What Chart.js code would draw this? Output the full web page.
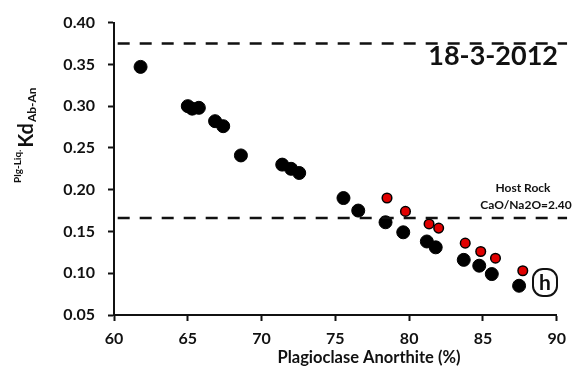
<!DOCTYPE html>
<html>
<head>
<meta charset="utf-8">
<title>Plagioclase-liquid Kd</title>
<script src="https://cdn.jsdelivr.net/npm/chart.js@4.4.1/dist/chart.umd.min.js"></script>
<style>
    html, body { margin: 0; padding: 0; background: #fff; }
    #kdChart { display: block; }
</style>
</head>
<body>
<canvas id="kdChart" width="574" height="378"></canvas>
<script>
// Plagioclase An content vs Plg-Liq Kd(Ab-An), sample 18-3-2012

// black circles
const anBlack = [61.8, 65.0, 65.3, 65.75, 66.85, 67.4, 68.6, 71.4, 72.0, 72.55, 75.55, 76.55, 78.4, 79.6, 81.2, 81.8, 83.7, 84.75, 85.6, 87.45];
const kdBlack = [0.347, 0.300, 0.297, 0.298, 0.282, 0.276, 0.241, 0.230, 0.225, 0.220, 0.190, 0.175, 0.161, 0.149, 0.138, 0.131, 0.116, 0.109, 0.099, 0.085];

// red circles
const anRed = [78.5, 79.75, 81.35, 82.0, 83.8, 84.85, 85.85, 87.7];
const kdRed = [0.190, 0.174, 0.159, 0.154, 0.136, 0.126, 0.118, 0.103];

// reference lines
const upperKd = 0.375;
const hostRockKd = 0.166;
const refLineAn = [60.25, 90.7];

const xTicks = [60, 65, 70, 75, 80, 85, 90];
const yTicks = [0.05, 0.10, 0.15, 0.20, 0.25, 0.30, 0.35, 0.40];

const FONT = 'Lato, "Open Sans", sans-serif';
const INK = '#111';

const toPoints = (xs, ys) => xs.map((x, i) => ({ x: x, y: ys[i] }));
const hLine = y => refLineAn.map(x => ({ x: x, y: y }));

// extra text: sample label, host rock note, panel letter, axis titles
const annotations = {
    id: 'annotations',
    afterDraw(chart) {
        const ctx = chart.ctx;
        ctx.save();
        ctx.fillStyle = INK;
        ctx.strokeStyle = INK;

        ctx.font = 'bold 27px ' + FONT;
        ctx.textAlign = 'right';
        ctx.textBaseline = 'alphabetic';
        ctx.fillText('18-3-2012', 558, 65);

        ctx.font = 'bold 12px ' + FONT;
        ctx.textAlign = 'center';
        ctx.textBaseline = 'middle';
        ctx.fillText('Host Rock', 523, 188);
        ctx.fillText('CaO/Na2O=2.40', 526, 205);

        // panel letter in rounded box
        ctx.lineWidth = 2;
        ctx.beginPath();
        ctx.roundRect(533, 269, 24, 27, 10);
        ctx.stroke();
        ctx.font = 'bold 21px ' + FONT;
        ctx.fillText('h', 545, 283);

        // x title
        ctx.font = 'bold 16.5px ' + FONT;
        ctx.fillText('Plagioclase Anorthite (%)', 369, 358);

        // y title with super/subscripts, rotated
        ctx.translate(33, 183);
        ctx.rotate(-Math.PI / 2);
        ctx.textAlign = 'left';
        ctx.textBaseline = 'alphabetic';
        let x = 0;
        ctx.font = 'bold 10px ' + FONT;
        ctx.fillText('Plg-Liq.', x, -12);
        x += ctx.measureText('Plg-Liq.').width + 2;
        ctx.font = 'bold 20px ' + FONT;
        ctx.fillText('Kd', x, 0);
        x += ctx.measureText('Kd').width + 1;
        ctx.font = 'bold 12px ' + FONT;
        ctx.fillText('Ab-An', x, 3);
        ctx.restore();
    }
};

new Chart(document.getElementById('kdChart'), {
    type: 'scatter',
    data: {
        datasets: [
            {
                label: 'upper',
                type: 'line',
                data: hLine(upperKd),
                borderColor: INK,
                borderWidth: 2.5,
                borderDash: [12, 10],
                pointRadius: 0,
                clip: false
            },
            {
                label: 'host rock',
                type: 'line',
                data: hLine(hostRockKd),
                borderColor: INK,
                borderWidth: 2.5,
                borderDash: [12, 10],
                pointRadius: 0,
                clip: false
            },
            {
                label: 'black',
                data: toPoints(anBlack, kdBlack),
                backgroundColor: '#000',
                borderColor: '#000',
                borderWidth: 1,
                pointRadius: 6.5
            },
            {
                label: 'red',
                data: toPoints(anRed, kdRed),
                backgroundColor: '#e00000',
                borderColor: '#000',
                borderWidth: 1.5,
                pointRadius: 4.8
            }
        ]
    },
    options: {
        responsive: false,
        animation: false,
        devicePixelRatio: 1,
        layout: { padding: { top: 14, right: 17, left: 0, bottom: 0 } },
        plugins: {
            legend: { display: false },
            tooltip: { enabled: false }
        },
        scales: {
            x: {
                type: 'linear',
                min: xTicks[0],
                max: xTicks[xTicks.length - 1],
                afterBuildTicks: s => { s.ticks = xTicks.map(v => ({ value: v })); },
                afterFit: s => { s.height = 63; },
                ticks: {
                    color: INK,
                    padding: 8,
                    font: { family: FONT, size: 16, weight: 'bold' }
                },
                grid: { drawOnChartArea: false, tickLength: 6, tickWidth: 2, color: INK },
                border: { color: INK, width: 2 }
            },
            y: {
                min: yTicks[0],
                max: yTicks[yTicks.length - 1],
                afterBuildTicks: s => { s.ticks = yTicks.map(v => ({ value: v })); },
                afterFit: s => { s.width = 114; },
                ticks: {
                    color: INK,
                    padding: 13,
                    callback: v => v.toFixed(2),
                    font: { family: FONT, size: 16, weight: 'bold' }
                },
                grid: { drawOnChartArea: false, tickLength: 6, tickWidth: 2, color: INK },
                border: { color: INK, width: 2 }
            }
        }
    },
    plugins: [annotations]
});
</script>
</body>
</html>
